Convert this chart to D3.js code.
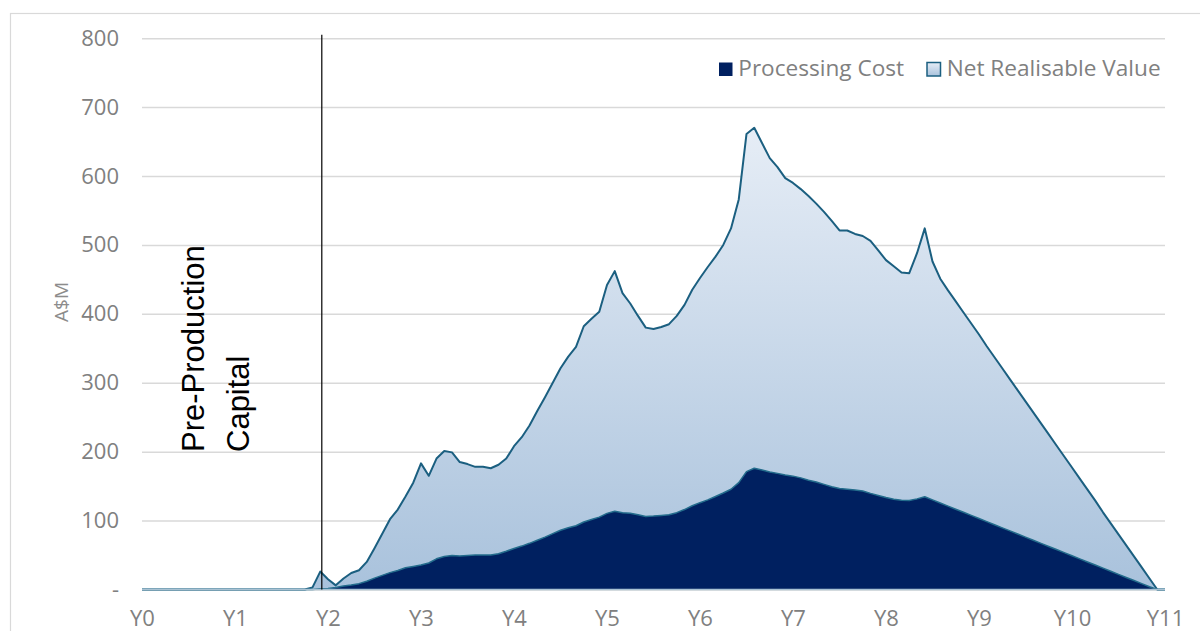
<!DOCTYPE html>
<html>
<head>
<meta charset="utf-8">
<script src="https://cdn.jsdelivr.net/npm/d3@7/dist/d3.min.js"></script>
<style>
  html, body { margin: 0; padding: 0; background: #ffffff; }
  svg { display: block; }
</style>
</head>
<body>
<svg id="chart" width="1200" height="631"></svg>
<script>
// ---------------- DATA (monthly periods 0..132, labelled by year) ----------------
const yearLabels = ["Y0","Y1","Y2","Y3","Y4","Y5","Y6","Y7","Y8","Y9","Y10","Y11"];
const periodsPerYear = 12;
const yTicks = [0, 100, 200, 300, 400, 500, 600, 700, 800];
const seriesNames = ["Processing Cost", "Net Realisable Value"];

// Net Realisable Value (A$M), one value per month
const netRealisableValue = [
  0,0,0,0,0,0,0,0,0,0,0,0,            // Y0
  0,0,0,0,0,0,0,0,0,0,3,26,           // Y1
  15,6,16,24,28,40,60,81,102,116,135,155, // Y2
  183,165,190,201,199,185,182,178,178,176,181,190, // Y3
  208,221,238,259,279,300,321,338,352,382,393,403, // Y4
  442,462,430,415,397,380,378,381,385,397,413,435, // Y5
  452,468,483,500,524,566,661,670,648,626,613,597, // Y6
  590,581,571,560,548,535,521,521,516,513,506,492, // Y7
  478,469,460,459,488,524,476,451,434,418,402,386, // Y8
  370,353,337,321,305,289,273,257,241,225,209,193, // Y9
  177,161,145,129,112,96,80,64,48,32,16,0,          // Y10
  0                                                  // Y11
];

// Processing Cost (A$M), one value per month
const processingCost = [
  0,0,0,0,0,0,0,0,0,0,0,0,
  0,0,0,0,0,0,0,0,0,0,0,1,
  1.5,3,5,6.5,8.5,12,16.5,20.5,24.5,27.5,31.5,33.5,
  35.5,38.5,44.5,48,49.5,48.5,49.5,50,50,50,52,55.5,
  59.5,63,67,71.5,76,81,86,89.5,92.5,98,101.5,105,
  110.5,113.5,111.5,110.5,108.5,106,106.5,107.5,108.5,111.5,116,121.5,
  126,130,135,140,145.5,155,171,176,173.5,170.5,168.5,166,
  164.5,162,158.5,156,152.5,149,146.5,145.5,144.5,143,139.5,136.5,
  133.5,131,129.5,129,131.5,134.5,130,125.5,121,116.5,112,107.5,
  103,98.5,94,89.5,85,80.5,76,71.5,67,62.5,58,53.5,
  49,44.5,40,35.5,31,26.5,22,17.5,13,8.5,4,0,
  0
];

// position of the "Pre-Production Capital" divider (in monthly periods)
const dividerPeriod = 23.2;
const annotationLines = ["Pre-Production", "Capital"];

// ---------------- LAYOUT ----------------
const svg = d3.select("#chart");
const W = 1200, H = 631;
const plot = { left: 142, right: 1165, top: 38.2, bottom: 589.5 };

const x = d3.scaleLinear()
  .domain([0, (yearLabels.length - 1) * periodsPerYear])
  .range([plot.left, plot.right]);
const y = d3.scaleLinear()
  .domain([0, 800])
  .range([plot.bottom, plot.top]);

const FONT = "'Open Sans', 'DejaVu Sans', sans-serif";
const GREY = "#808080";

svg.append("rect").attr("width", W).attr("height", H).attr("fill", "#ffffff");
// chart-area border
svg.append("rect")
  .attr("x", 10.5).attr("y", 13.5)
  .attr("width", 1300).attr("height", 700)
  .attr("fill", "none").attr("stroke", "#d9d9d9").attr("stroke-width", 1.2);

// gradient for NRV
const defs = svg.append("defs");
const grad = defs.append("linearGradient")
  .attr("id", "nrvGrad")
  .attr("gradientUnits", "userSpaceOnUse")
  .attr("x1", 0).attr("x2", 0)
  .attr("y1", y(d3.max(netRealisableValue))).attr("y2", y(0));
grad.append("stop").attr("offset", "0%").attr("stop-color", "#e6edf6");
grad.append("stop").attr("offset", "100%").attr("stop-color", "#a9c2dc");

const gradLeg = defs.append("linearGradient")
  .attr("id", "nrvGradLeg").attr("x1", 0).attr("x2", 0).attr("y1", 0).attr("y2", 1);
gradLeg.append("stop").attr("offset", "0%").attr("stop-color", "#e6edf6");
gradLeg.append("stop").attr("offset", "100%").attr("stop-color", "#a9c2dc");

// ---------------- Y AXIS / GRIDLINES ----------------
const yAxis = d3.axisLeft(y)
  .tickValues(yTicks)
  .tickSize(-(plot.right - plot.left))
  .tickPadding(23)
  .tickFormat(d => d === 0 ? "-" : d3.format("d")(d));

const gy = svg.append("g")
  .attr("transform", `translate(${plot.left},0)`)
  .call(yAxis);
gy.select(".domain").remove();
gy.selectAll(".tick line")
  .attr("stroke", "#d9d9d9").attr("stroke-width", 1.5);
gy.selectAll(".tick text")
  .attr("fill", GREY).style("font-family", FONT).style("font-size", "22px");

// ---------------- AREAS ----------------
const nrvArea = d3.area()
  .x((d, i) => x(i)).y0(y(0)).y1(d => y(d));
const nrvLine = d3.line()
  .x((d, i) => x(i)).y(d => y(d));

svg.append("path")
  .datum(netRealisableValue)
  .attr("d", nrvArea)
  .attr("fill", "url(#nrvGrad)");
svg.append("path")
  .datum(netRealisableValue)
  .attr("d", nrvLine)
  .attr("fill", "none")
  .attr("stroke", "#1b5f80")
  .attr("stroke-width", 2)
  .attr("stroke-linejoin", "round");

svg.append("path")
  .datum(processingCost)
  .attr("d", nrvArea)
  .attr("fill", "#002060");
svg.append("path")
  .datum(processingCost)
  .attr("d", nrvLine)
  .attr("fill", "none")
  .attr("stroke", "#236c8c")
  .attr("stroke-width", 1.5)
  .attr("stroke-linejoin", "round");

// baseline
svg.append("line")
  .attr("x1", plot.left).attr("x2", plot.right)
  .attr("y1", y(0)).attr("y2", y(0))
  .attr("stroke", "#a9c2d3").attr("stroke-width", 1.6);

// ---------------- X AXIS ----------------
const xAxis = d3.axisBottom(x)
  .tickValues(yearLabels.map((d, i) => i * periodsPerYear))
  .tickSize(0)
  .tickPadding(20.5)
  .tickFormat((d, i) => yearLabels[i]);
const gx = svg.append("g")
  .attr("transform", `translate(0,${plot.bottom})`)
  .call(xAxis);
gx.select(".domain").remove();
gx.selectAll(".tick text")
  .attr("fill", GREY).style("font-family", FONT).style("font-size", "22px");

// ---------------- DIVIDER & ANNOTATION ----------------
svg.append("line")
  .attr("x1", x(dividerPeriod)).attr("x2", x(dividerPeriod))
  .attr("y1", y(805)).attr("y2", y(0))
  .attr("stroke", "#000000").attr("stroke-width", 1.2);

annotationLines.forEach((t, i) => {
  svg.append("text")
    .attr("transform", `translate(${204 + i * 45},452) rotate(-90)`)
    .attr("text-anchor", "start")
    .style("font-family", "'Liberation Sans', Arial, sans-serif")
    .style("font-size", "31px")
    .attr("fill", "#000000")
    .text(t);
});

// Y axis title
svg.append("text")
  .attr("transform", `translate(61,302) rotate(-90)`)
  .attr("text-anchor", "middle")
  .attr("dominant-baseline", "central")
  .style("font-family", FONT)
  .style("font-size", "19px")
  .attr("fill", "#8c8c8c")
  .text("A$M");

// ---------------- LEGEND ----------------
const legendItems = [
  { name: seriesNames[0], mx: 719, tx: 738.3, fill: "#002060", stroke: "none" },
  { name: seriesNames[1], mx: 927, tx: 946.7, fill: "url(#nrvGradLeg)", stroke: "#1b5f80" }
];
legendItems.forEach(it => {
  svg.append("rect")
    .attr("x", it.mx).attr("y", 62.5)
    .attr("width", 13.5).attr("height", 13.5)
    .attr("fill", it.fill)
    .attr("stroke", it.stroke).attr("stroke-width", 1.5);
  svg.append("text")
    .attr("x", it.tx).attr("y", 76)
    .style("font-family", FONT).style("font-size", "22.6px")
    .attr("fill", GREY)
    .text(it.name);
});
</script>
</body>
</html>
